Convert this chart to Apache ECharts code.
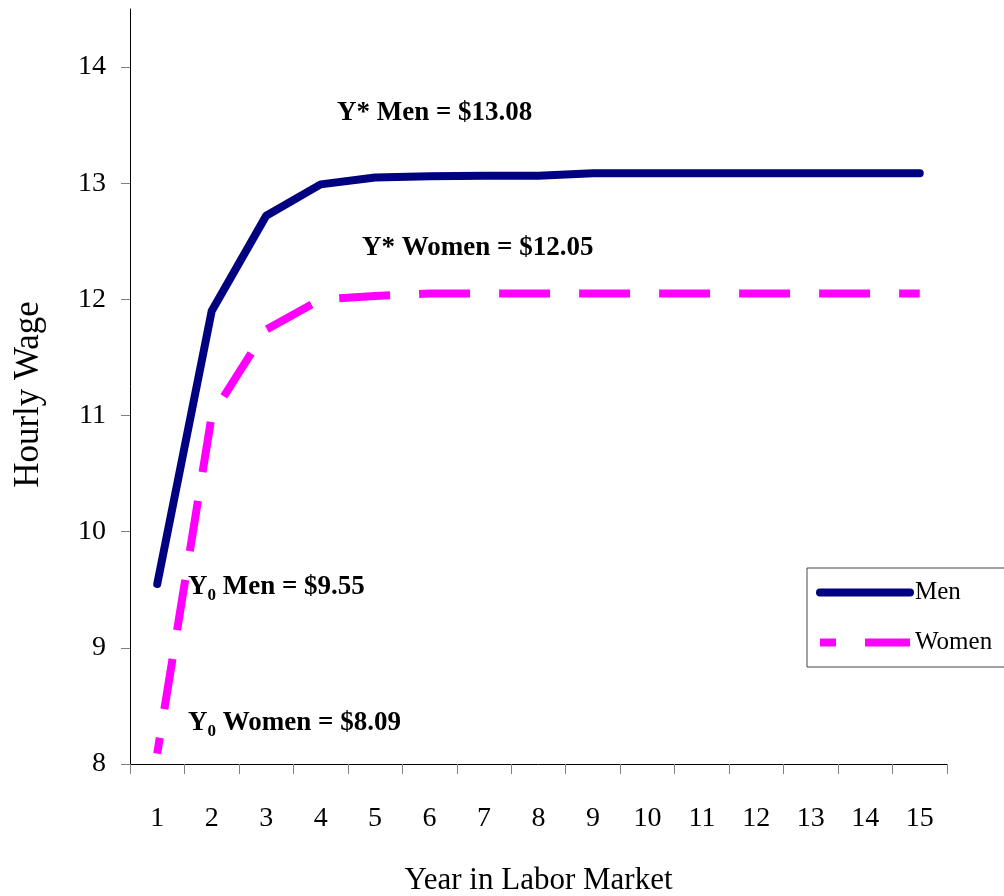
<!DOCTYPE html>
<html>
<head>
<meta charset="utf-8">
<script src="https://cdn.jsdelivr.net/npm/echarts@6/dist/echarts.min.js"></script>
<style>
html,body{margin:0;padding:0;background:#fff;}
#chart{width:1004px;height:896px;}
</style>
</head>
<body>
<div id="chart"></div>
<script>
const years = ['1','2','3','4','5','6','7','8','9','10','11','12','13','14','15'];
const menWage = [9.55, 11.90, 12.72, 12.99, 13.05, 13.06, 13.065, 13.065, 13.085, 13.085, 13.085, 13.085, 13.085, 13.085, 13.085];
const womenWage = [8.09, 11.00, 11.74, 12.00, 12.03, 12.05, 12.05, 12.05, 12.05, 12.05, 12.05, 12.05, 12.05, 12.05, 12.05];
const yTicks = [8, 9, 10, 11, 12, 13, 14];
const annotations = [
  {text: '{a|Y* Men = $13.08}'},
  {text: '{a|Y* Women = $12.05}'},
  {text: '{a|Y}{s|0}{a| Men = $9.55}'},
  {text: '{a|Y}{s|0}{a| Women = $8.09}'}
];
const annPos = [[337, 113], [362, 248], [188, 587], [188, 723]];

const FONT = '"Liberation Serif", "Times New Roman", serif';
const chart = echarts.init(document.getElementById('chart'), null, {renderer: 'canvas'});

const richStyle = {
  a: {fontFamily: FONT, fontSize: 27, fontWeight: 'bold', color: '#000', lineHeight: 34},
  s: {fontFamily: FONT, fontSize: 17, fontWeight: 'bold', color: '#000', lineHeight: 22, verticalAlign: 'bottom'}
};

chart.setOption({
  animation: false,
  backgroundColor: '#fff',
  grid: {left: 130, right: 57, top: 9, bottom: 132, containLabel: false, outerBoundsMode: 'none'},
  xAxis: {
    type: 'category',
    data: years,
    boundaryGap: true,
    name: 'Year in Labor Market',
    nameLocation: 'middle',
    nameGap: 101,
    nameTextStyle: {fontFamily: FONT, fontSize: 31, color: '#000', verticalAlign: 'top'},
    axisLine: {lineStyle: {color: '#000', width: 1}},
    axisTick: {show: true, interval: 0, length: 10, lineStyle: {color: '#808080', width: 1}},
    axisLabel: {fontFamily: FONT, fontSize: 28, color: '#000', margin: 41, interval: 0},
    splitLine: {show: false}
  },
  yAxis: {
    type: 'value',
    min: 8,
    max: 14.5,
    interval: 1,
    name: 'Hourly Wage',
    nameLocation: 'middle',
    nameGap: 84,
    nameTextStyle: {fontFamily: FONT, fontSize: 35, color: '#000', padding: [0, 16, 0, 0]},
    axisLine: {show: true, lineStyle: {color: '#000', width: 1}},
    axisTick: {show: true, length: 9, customValues: yTicks, lineStyle: {color: '#808080', width: 1}},
    axisLabel: {fontFamily: FONT, fontSize: 28, color: '#000', margin: 24, customValues: yTicks, padding: [7, 0, 0, 0]},
    splitLine: {show: false}
  },
  legend: {
    orient: 'vertical',
    left: 807,
    top: 568,
    padding: [12, 24, 12, 9],
    borderColor: '#444',
    borderWidth: 1,
    backgroundColor: '#fff',
    itemWidth: 90,
    itemHeight: 25,
    itemGap: 25,
    itemStyle: {opacity: 0},
    lineStyle: {width: 8},
    textStyle: {fontFamily: FONT, fontSize: 25, color: '#000'},
    data: ['Men', 'Women']
  },
  graphic: annotations.map((a, i) => ({
    type: 'text',
    x: annPos[i][0],
    y: annPos[i][1],
    z: 100,
    style: {text: a.text, rich: richStyle, verticalAlign: 'middle', align: 'left'}
  })),
  series: [
    {
      name: 'Men',
      type: 'line',
      data: menWage,
      symbol: 'none',
      showSymbol: false,
      lineStyle: {color: '#000080', width: 8, cap: 'round', join: 'round'},
      itemStyle: {color: '#000080'},
      z: 3
    },
    {
      name: 'Women',
      type: 'line',
      data: womenWage,
      symbol: 'none',
      showSymbol: false,
      lineStyle: {color: '#FF00FF', width: 8, type: [51, 29], dashOffset: 35, cap: 'butt', join: 'miter'},
      itemStyle: {color: '#FF00FF'},
      z: 2
    }
  ]
});
</script>
</body>
</html>
